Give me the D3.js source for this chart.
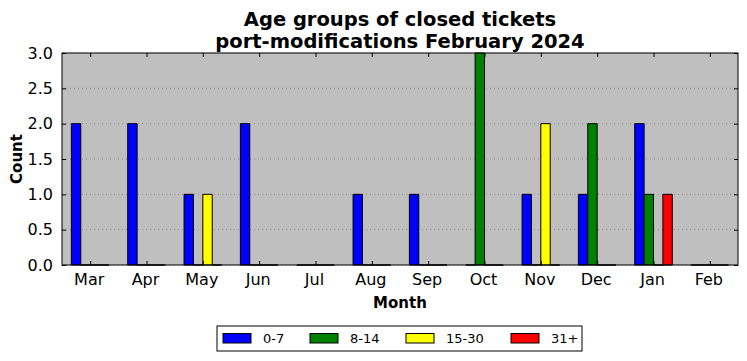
<!DOCTYPE html>
<html>
<head>
<meta charset="utf-8">
<script src="https://cdn.jsdelivr.net/npm/d3@7"></script>
<style>
  body { margin: 0; background: #fff; }
  text { font-family: "DejaVu Sans", sans-serif; }
</style>
</head>
<body>
<div id="chart"></div>
<script>
const width = 747;
const height = 361;

// data
const months = ["Mar", "Apr", "May", "Jun", "Jul", "Aug", "Sep", "Oct", "Nov", "Dec", "Jan", "Feb"];
const groups = ["0-7", "8-14", "15-30", "31+"];
const groupColors = ["#0000ff", "#008000", "#ffff00", "#ff0000"];
const age0to7 = [2, 2, 1, 2, 0, 1, 1, 0, 1, 1, 2, 0];
const age8to14 = [0, 0, 0, 0, 0, 0, 0, 3, 0, 2, 1, 0];
const age15to30 = [0, 0, 1, 0, 0, 0, 0, 0, 2, 0, 0, 0];
const age31plus = [0, 0, 0, 0, 0, 0, 0, 0, 0, 0, 1, 0];
const series = [age0to7, age8to14, age15to30, age31plus];
const yTicks = [0, 0.5, 1, 1.5, 2, 2.5, 3];

const margin = { top: 53, right: 9, bottom: 96, left: 62 };
const plotW = width - margin.left - margin.right;
const plotH = height - margin.top - margin.bottom;

const svg = d3.select("#chart")
  .append("svg")
  .attr("width", width)
  .attr("height", height);

const x = d3.scaleLinear().domain([-0.5, months.length - 0.5]).range([margin.left, margin.left + plotW]);
const y = d3.scaleLinear().domain([0, 3]).range([margin.top + plotH, margin.top]);
const barW = 1 / 6;

// background
svg.append("rect")
  .attr("x", margin.left).attr("y", margin.top)
  .attr("width", plotW).attr("height", plotH)
  .attr("fill", "#bfbfbf");

// grid
svg.append("g")
  .selectAll("line")
  .data(yTicks)
  .join("line")
  .attr("x1", margin.left).attr("x2", margin.left + plotW)
  .attr("y1", d => y(d)).attr("y2", d => y(d))
  .attr("stroke", "#808080")
  .attr("stroke-width", 0.8)
  .attr("stroke-dasharray", "1,3");

// bars
series.forEach((vals, s) => {
  svg.append("g")
    .selectAll("path")
    .data(vals)
    .join("path")
    .attr("d", (d, i) => {
      const x0 = x(i + (s - 2) * barW);
      const x1 = x(i + (s - 1) * barW);
      return `M${x0},${y(0)}V${y(d)}H${x1}V${y(0)}Z`;
    })
    .attr("fill", groupColors[s])
    .attr("stroke", "#000")
    .attr("stroke-width", 1);
});

// axes (ticks inward, mirrored)
const xTickVals = d3.range(months.length);
svg.append("g")
  .attr("transform", `translate(0,${margin.top + plotH})`)
  .call(d3.axisBottom(x).tickValues(xTickVals).tickFormat(i => months[i]).tickSizeInner(-4).tickSizeOuter(0).tickPadding(9))
  .call(g => g.select(".domain").remove())
  .call(g => g.selectAll("text").attr("font-size", 16).attr("font-family", "DejaVu Sans").attr("dx", -1.5));

svg.append("g")
  .attr("transform", `translate(0,${margin.top})`)
  .call(d3.axisTop(x).tickValues(xTickVals).tickFormat("").tickSizeInner(-4).tickSizeOuter(0))
  .call(g => g.select(".domain").remove());

svg.append("g")
  .attr("transform", `translate(${margin.left},0)`)
  .call(d3.axisLeft(y).tickValues(yTicks).tickFormat(d3.format(".1f")).tickSizeInner(-4).tickSizeOuter(0).tickPadding(9))
  .call(g => g.select(".domain").remove())
  .call(g => g.selectAll("text").attr("font-size", 16).attr("font-family", "DejaVu Sans"));

svg.append("g")
  .attr("transform", `translate(${margin.left + plotW},0)`)
  .call(d3.axisRight(y).tickValues(yTicks).tickFormat("").tickSizeInner(-4).tickSizeOuter(0))
  .call(g => g.select(".domain").remove());

// frame
svg.append("rect")
  .attr("x", margin.left).attr("y", margin.top)
  .attr("width", plotW).attr("height", plotH)
  .attr("fill", "none")
  .attr("stroke", "#000")
  .attr("stroke-width", 1);

// titles
svg.append("text")
  .attr("x", margin.left + plotW / 2).attr("y", 26)
  .attr("text-anchor", "middle")
  .attr("font-size", 19.5).attr("font-weight", "bold")
  .text("Age groups of closed tickets");
svg.append("text")
  .attr("x", margin.left + plotW / 2).attr("y", 48)
  .attr("text-anchor", "middle")
  .attr("font-size", 19.5).attr("font-weight", "bold")
  .text("port-modifications February 2024");

svg.append("text")
  .attr("x", margin.left + plotW / 2).attr("y", 308)
  .attr("text-anchor", "middle")
  .attr("font-size", 15).attr("font-weight", "bold")
  .text("Month");

svg.append("text")
  .attr("transform", `translate(22,${margin.top + plotH / 2}) rotate(-90)`)
  .attr("text-anchor", "middle")
  .attr("font-size", 15).attr("font-weight", "bold")
  .text("Count");

// legend
const legend = svg.append("g").attr("transform", "translate(217,326)");
legend.append("rect")
  .attr("width", 365).attr("height", 25)
  .attr("fill", "#fff").attr("stroke", "#000").attr("stroke-width", 1);
const legendX = [6, 93, 189, 294];
groups.forEach((g, i) => {
  legend.append("rect")
    .attr("x", legendX[i]).attr("y", 7.5)
    .attr("width", 28).attr("height", 9.5)
    .attr("fill", groupColors[i]).attr("stroke", "#000").attr("stroke-width", 1);
  legend.append("text")
    .attr("x", legendX[i] + 40).attr("y", 17)
    .attr("font-size", 13)
    .text(g);
});
</script>
</body>
</html>
